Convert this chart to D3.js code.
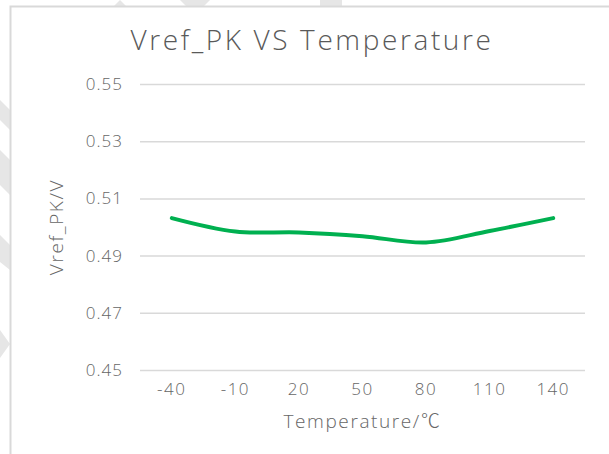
<!DOCTYPE html>
<html>
<head>
<meta charset="utf-8">
<script src="https://cdn.jsdelivr.net/npm/d3@7"></script>
<style>
  html, body { margin: 0; padding: 0; background: #fff; }
  svg { display: block; }
  text { font-family: "Open Sans", "Noto Sans CJK SC", sans-serif; font-weight: 300; }
</style>
</head>
<body>
<svg id="chart" width="609" height="454"></svg>
<script>
const categories = ["-40", "-10", "20", "50", "80", "110", "140"];
const values = [0.5031, 0.4984, 0.4981, 0.4968, 0.4946, 0.4986, 0.5031];
const yTicks = [0.45, 0.47, 0.49, 0.51, 0.53, 0.55];
const title = "Vref_PK VS Temperature";
const xTitle = "Temperature/℃";
const yTitle = "Vref_PK/V";

const svg = d3.select("#chart");
const W = 609, H = 454;
const plot = { left: 140, right: 585, top: 84, bottom: 370 };
const FONT = '"Open Sans", "Noto Sans CJK SC", sans-serif';

// faint watermark fragments
const wm = svg.append("g").attr("fill", "#e6e6e6");
wm.append("path").attr("d", "M114,6 L120,0 L126,6 Z");
wm.append("path").attr("d", "M180,0 L210,0 L204,6 L186,6 Z");
wm.append("path").attr("d", "M320,0 L342,0 L342,6 L320,6 Z");
wm.append("path").attr("d", "M0,150 L10,160 L10,195 L0,185 Z");
wm.append("path").attr("d", "M0,330 L10,344 L0,358 Z");
wm.append("path").attr("d", "M0,100 L10,110 L10,130 L0,120 Z");
wm.append("path").attr("d", "M0,235 L10,245 L10,270 L0,262 Z");

// chart border (top and left visible)
svg.append("path")
  .attr("d", `M10.5,${H} L10.5,6.5 L${W},6.5`)
  .attr("fill", "none").attr("stroke", "#d9d9d9").attr("stroke-width", 2);

const x = d3.scaleBand().domain(categories).range([plot.left, plot.right]);
const y = d3.scaleLinear().domain([0.45, 0.55]).range([plot.bottom, plot.top]);

// gridlines + y labels
const yAxis = d3.axisLeft(y).tickValues(yTicks).tickSize(-(plot.right - plot.left))
  .tickPadding(17).tickFormat(d3.format(".2f"));
const gy = svg.append("g").attr("transform", `translate(${plot.left},0)`).call(yAxis);
gy.select(".domain").remove();
gy.selectAll(".tick line").attr("stroke", "#d9d9d9").attr("stroke-width", 1.5);
gy.selectAll(".tick text").attr("fill", "#666").attr("font-size", 17)
  .style("font-family", FONT).style("font-weight", 300).style("letter-spacing", "1px");

// x axis labels
const xAxis = d3.axisBottom(x).tickSize(0).tickPadding(13);
const gx = svg.append("g").attr("transform", `translate(0,${plot.bottom})`).call(xAxis);
gx.select(".domain").remove();
gx.selectAll(".tick text").attr("fill", "#666").attr("font-size", 17)
  .style("font-family", FONT).style("font-weight", 300).style("letter-spacing", "1.5px");

// line
const line = d3.line()
  .x((d, i) => x(categories[i]) + x.bandwidth() / 2)
  .y(d => y(d))
  .curve(d3.curveCatmullRom.alpha(0.5));
svg.append("path").datum(values)
  .attr("d", line)
  .attr("fill", "none").attr("stroke", "#00B050")
  .attr("stroke-width", 4).attr("stroke-linecap", "round").attr("stroke-linejoin", "round");

// titles
svg.append("text").attr("x", 312).attr("y", 50).attr("text-anchor", "middle")
  .attr("font-size", 28).attr("fill", "#595959").style("letter-spacing", "2.6px").text(title);
svg.append("text").attr("x", (plot.left + plot.right) / 2).attr("y", 428).attr("text-anchor", "middle")
  .attr("font-size", 19).attr("fill", "#666").style("letter-spacing", "1.6px").text(xTitle);
svg.append("text").attr("transform", `translate(63,${(plot.top + plot.bottom) / 2}) rotate(-90)`)
  .attr("text-anchor", "middle")
  .attr("font-size", 19).attr("fill", "#666").style("letter-spacing", "1.6px").text(yTitle);
</script>
</body>
</html>
